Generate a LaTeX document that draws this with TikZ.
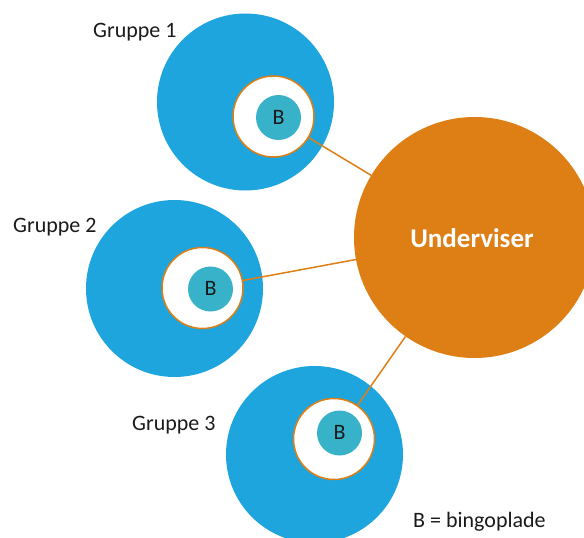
\documentclass[tikz,border=0pt]{standalone}
\usepackage{fontspec}
\setmainfont{Carlito}
\definecolor{grpblue}{HTML}{1EA5DE}
\definecolor{hubor}{HTML}{DE7F16}
\definecolor{plate}{HTML}{37B2C8}
\definecolor{txt}{HTML}{1A1A1A}
\begin{document}
\begin{tikzpicture}[x=1pt,y=-1pt,
  group/.style={circle,fill=grpblue,minimum size=177pt,inner sep=0pt},
  seat/.style={circle,fill=white,draw=hubor,line width=1.5pt,minimum size=81pt,inner sep=0pt},
  plate/.style={circle,fill=plate,minimum size=45pt,inner sep=0pt},
  hub/.style={circle,fill=hubor,minimum size=241pt,inner sep=0pt},
  link/.style={draw=hubor,line width=1.5pt},
  lbl/.style={font=\fontsize{22}{26}\selectfont,text=txt,inner sep=0pt},
  blabel/.style={font=\fontsize{22}{26}\selectfont,text=txt,inner sep=0pt,anchor=base}]
\useasboundingbox (0,0) rectangle (584,538);
\begin{scope}
\clip (0,0) rectangle (584,538);
% group circles
\node[group] (g1) at (245.5,102) {};
\node[group] (g2) at (174.5,288.5) {};
\node[group] (g3) at (314.5,454.5) {};
% teacher circle
\node[hub] (hub) at (474.5,237.5) {};
% connectors from the teacher to each bingo seat
\path (273.5,116.5) coordinate (c1) (202.5,288) coordinate (c2) (334,439) coordinate (c3);
\draw[link] (hub) -- (c1);
\draw[link] (hub) -- (c2);
\draw[link] (hub) -- (c3);
% seats with bingo plates
\node[seat] (s1) at (c1) {};
\node[seat] (s2) at (c2) {};
\node[seat] (s3) at (c3) {};
\node[plate] (p1) at (278.5,117.5) {};
\node[plate] (p2) at (210.5,289) {};
\node[plate] (p3) at (339.5,433) {};
\end{scope}
\node[blabel] (b1) at ([yshift=-6.5pt]p1.center) {B};
\node[blabel] (b2) at ([yshift=-6.5pt]p2.center) {B};
\node[blabel] (b3) at ([yshift=-6.5pt]p3.center) {B};
\node[font=\bfseries\fontsize{27}{32}\selectfont,text=white,anchor=base,inner sep=0pt] (ht) at (472,247) {Underviser};
% labels
\node[lbl,anchor=base west] (l1) at (93,37) {Gruppe 1};
\node[lbl,anchor=base west] (l2) at (13,232) {Gruppe 2};
\node[lbl,anchor=base west] (l3) at (132,430) {Gruppe 3};
\node[lbl,anchor=base west] (key) at (413,527) {B = bingoplade};
\end{tikzpicture}
\end{document}
